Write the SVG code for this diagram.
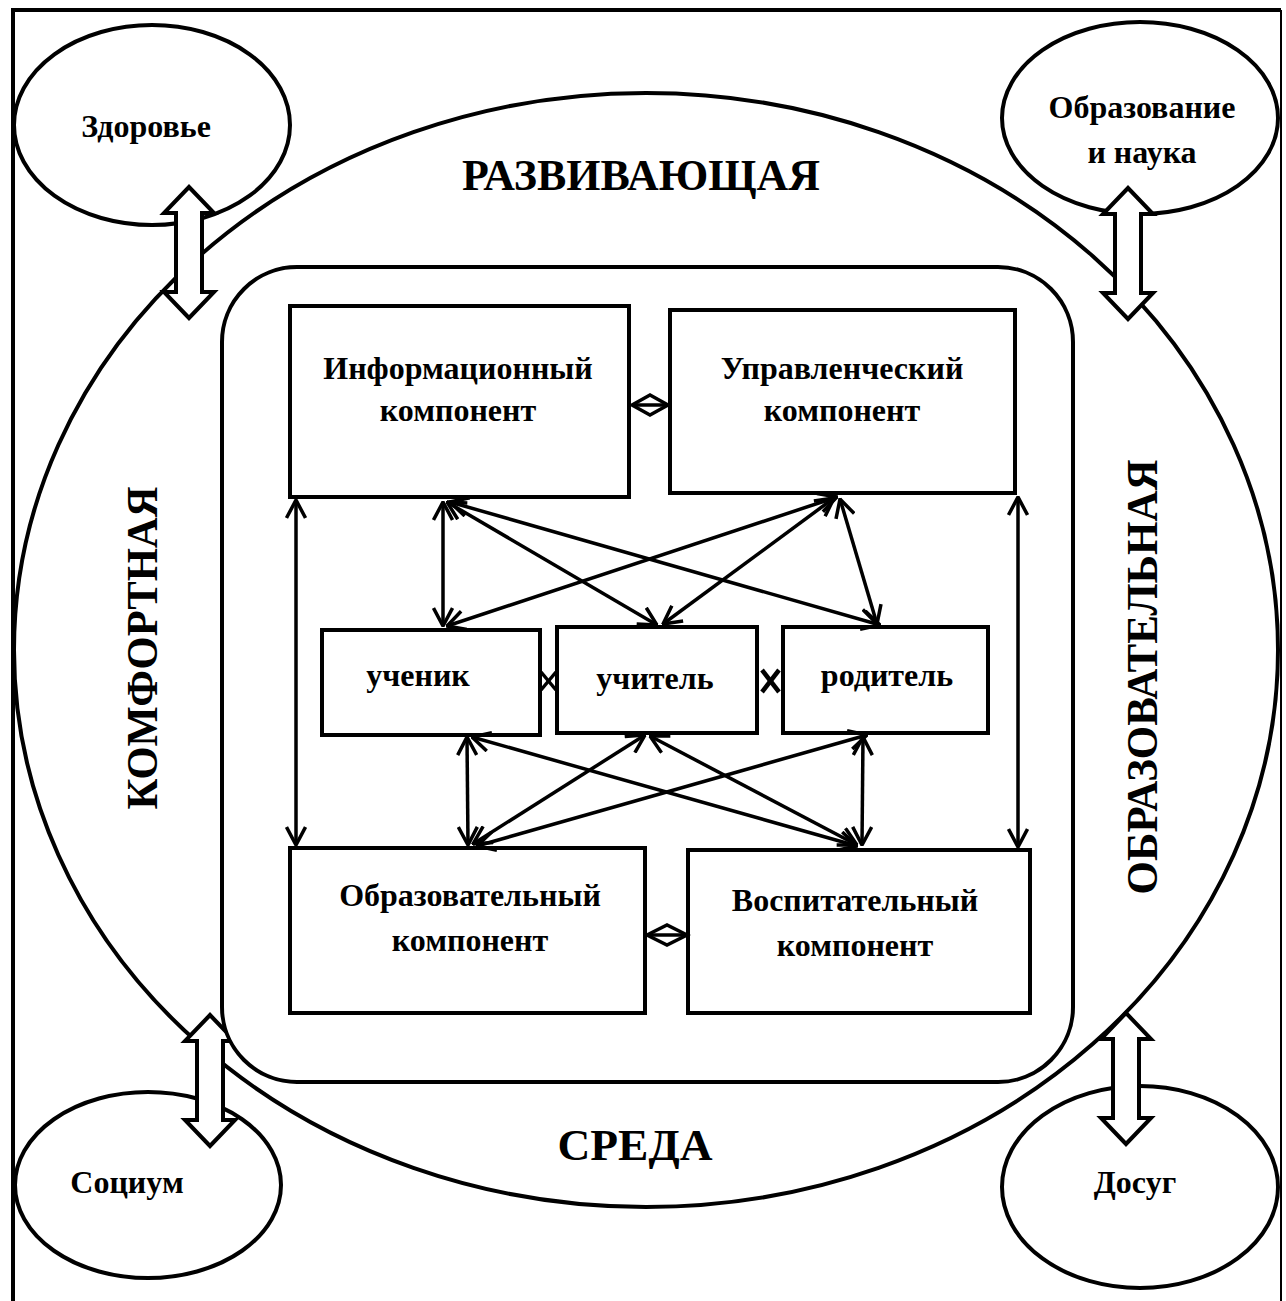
<svg xmlns="http://www.w3.org/2000/svg" width="1286" height="1301" viewBox="0 0 1286 1301">
<style>
.t{font-family:"Liberation Serif","Times New Roman",serif;font-weight:bold;fill:#000}
.bx{font-size:32px;text-anchor:middle}
.big{font-size:44px;text-anchor:middle}
.sh{fill:#fff;stroke:#000;stroke-width:4}
.cn{stroke:#000;stroke-width:3.5;fill:none;marker-start:url(#ah);marker-end:url(#ah)}
</style>
<defs>
<marker id="ah" viewBox="0 0 20 22" refX="19" refY="11" markerWidth="20" markerHeight="22" markerUnits="userSpaceOnUse" orient="auto-start-reverse">
<path d="M1,1.5 L19,11 L1,20.5" fill="none" stroke="#000" stroke-width="3.5"/>
</marker>
<path id="dbl" d="M0,0 L25,26 L13,26 L13,105 L25,105 L0,131 L-25,105 L-13,105 L-13,26 L-25,26 Z" fill="#fff" stroke="#000" stroke-width="4" stroke-linejoin="miter"/>
</defs>
<rect width="1286" height="1301" fill="#fff"/>
<g id="frame">
<path d="M13,1301 L13,10 L1281,10" fill="none" stroke="#000" stroke-width="4"/>
<path d="M1281,10 L1281,1301" fill="none" stroke="#000" stroke-width="2"/>
</g>
<g id="environment">
<ellipse cx="646" cy="650" rx="632" ry="557" class="sh"/>
<text class="t big" x="641" y="190" textLength="358" lengthAdjust="spacingAndGlyphs">РАЗВИВАЮЩАЯ</text>
<text class="t big" x="635" y="1160" textLength="155" lengthAdjust="spacingAndGlyphs">СРЕДА</text>
<text class="t big" transform="translate(157,648) rotate(-90)" textLength="323" lengthAdjust="spacingAndGlyphs">КОМФОРТНАЯ</text>
<text class="t big" transform="translate(1157,677) rotate(-90)" textLength="435" lengthAdjust="spacingAndGlyphs">ОБРАЗОВАТЕЛЬНАЯ</text>
</g>
<g id="health"><ellipse cx="152" cy="125" rx="138" ry="100" class="sh"/><text class="t bx" x="146" y="137">Здоровье</text></g>
<g id="education-science"><ellipse cx="1140" cy="118" rx="138" ry="96" class="sh"/><text class="t bx" x="1142" y="118">Образование</text><text class="t bx" x="1142" y="163">и наука</text></g>
<g id="society"><ellipse cx="148" cy="1185" rx="133" ry="93" class="sh"/><text class="t bx" x="127" y="1193">Социум</text></g>
<g id="leisure"><ellipse cx="1140" cy="1187" rx="138" ry="101" class="sh"/><text class="t bx" x="1135" y="1193">Досуг</text></g>
<g id="exchange-arrows">
<use href="#dbl" transform="translate(189,187)"/>
<use href="#dbl" transform="translate(1128,188)"/>
<use href="#dbl" transform="translate(210,1015)"/>
<use href="#dbl" transform="translate(1126,1013)"/>
</g>
<g id="school"><rect x="222" y="267" width="851" height="815" rx="75" ry="75" class="sh"/></g>
<g id="info"><rect x="290" y="306" width="339" height="191" class="sh"/><text class="t bx" x="458" y="379">Информационный</text><text class="t bx" x="458" y="421">компонент</text></g>
<g id="mgmt"><rect x="670" y="310" width="345" height="183" class="sh"/><text class="t bx" x="842" y="379">Управленческий</text><text class="t bx" x="842" y="421">компонент</text></g>
<g id="pupil"><rect x="322" y="630" width="218" height="105" class="sh"/><text class="t bx" x="418" y="686">ученик</text></g>
<g id="teacher"><rect x="557" y="627" width="200" height="106" class="sh"/><text class="t bx" x="655" y="689">учитель</text></g>
<g id="parent"><rect x="783" y="627" width="205" height="106" class="sh"/><text class="t bx" x="887" y="686">родитель</text></g>
<g id="edu"><rect x="290" y="848" width="355" height="165" class="sh"/><text class="t bx" x="470" y="906">Образовательный</text><text class="t bx" x="470" y="951">компонент</text></g>
<g id="upbr"><rect x="688" y="850" width="342" height="163" class="sh"/><text class="t bx" x="855" y="911">Воспитательный</text><text class="t bx" x="855" y="956">компонент</text></g>
<g id="connectors">
<line class="cn" x1="443" y1="502" x2="443" y2="626"/>
<line class="cn" x1="447" y1="502" x2="657" y2="625"/>
<line class="cn" x1="450" y1="502" x2="880" y2="625"/>
<line class="cn" x1="837" y1="497" x2="447" y2="626"/>
<line class="cn" x1="834" y1="498" x2="663" y2="624"/>
<line class="cn" x1="840" y1="499" x2="877" y2="624"/>
<line class="cn" x1="467" y1="737" x2="468" y2="845"/>
<line class="cn" x1="472" y1="737" x2="857" y2="846"/>
<line class="cn" x1="645" y1="735" x2="473" y2="844"/>
<line class="cn" x1="650" y1="736" x2="857" y2="845"/>
<line class="cn" x1="867" y1="735" x2="477" y2="846"/>
<line class="cn" x1="863" y1="737" x2="862" y2="845"/>
<line class="cn" x1="296" y1="500" x2="296" y2="845"/>
<line class="cn" x1="1018" y1="497" x2="1018" y2="847"/>
<g stroke="#000" fill="none" stroke-width="3.5">
<polygon points="632,405 650,395 668,405 650,415"/><line x1="632" y1="405" x2="668" y2="405"/>
<polygon points="647,935 667,925 687,935 667,945"/><line x1="647" y1="935" x2="687" y2="935"/>
<line x1="541" y1="672" x2="556" y2="690"/><line x1="541" y1="690" x2="556" y2="672"/>
<line x1="762" y1="670" x2="779" y2="692" stroke-width="4.5"/><line x1="762" y1="692" x2="779" y2="670" stroke-width="4.5"/>
</g>
</g>
</svg>
